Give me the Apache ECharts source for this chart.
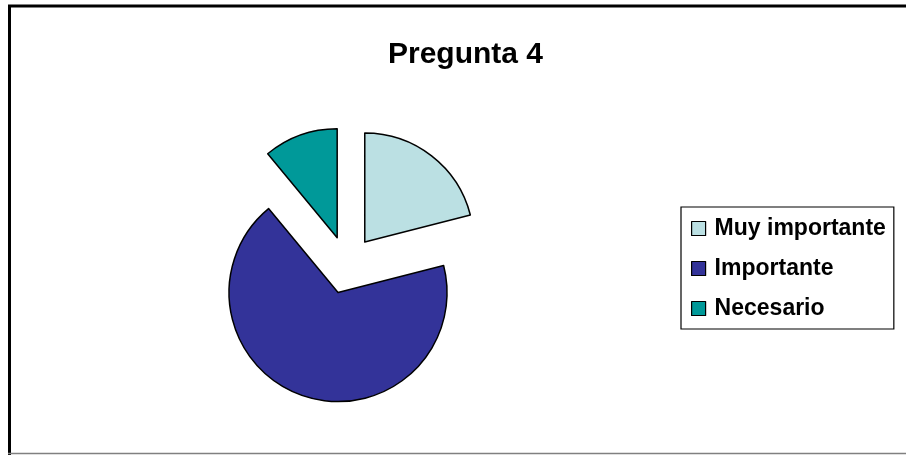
<!DOCTYPE html>
<html>
<head>
<meta charset="utf-8">
<script src="https://cdn.jsdelivr.net/npm/echarts@6/dist/echarts.min.js"></script>
<style>
  html, body { margin: 0; padding: 0; background: #fff; }
  #chart { width: 906px; height: 455px; }
</style>
</head>
<body>
<div id="chart"></div>
<script>
// Survey answers for question 4 (percent of responses)
const categories = ['Muy importante', 'Importante', 'Necesario'];
const values = [21, 68, 11];
const colors = ['#BBE0E3', '#333399', '#009999'];
const titleText = 'Pregunta 4';

const chart = echarts.init(document.getElementById('chart'), null, { renderer: 'canvas' });

const pieData = categories.map((name, i) => ({
  name: name,
  value: values[i],
  selected: true,
  itemStyle: { color: colors[i] }
}));

chart.setOption({
  animation: false,
  backgroundColor: '#ffffff',
  title: {
    text: titleText,
    left: 388,
    top: 40,
    padding: 0,
    textStyle: {
      fontFamily: 'Liberation Sans, Arial, sans-serif',
      fontWeight: 'bold',
      fontSize: 30,
      color: '#000'
    }
  },
  legend: {
    orient: 'vertical',
    left: 681,
    top: 207,
    padding: [10, 8, 9, 10],
    itemWidth: 14,
    itemHeight: 14,
    itemGap: 17,
    icon: 'rect',
    selectedMode: false,
    borderColor: '#000',
    borderWidth: 1.2,
    itemStyle: { borderColor: '#000', borderWidth: 1.2 },
    textStyle: {
      fontFamily: 'Liberation Sans, Arial, sans-serif',
      fontWeight: 'bold',
      fontSize: 23,
      color: '#000',
      padding: [0, 0, 0, 4]
    },
    data: categories
  },
  graphic: [
    { type: 'line', shape: { x1: 8, y1: 6, x2: 906, y2: 6 }, style: { stroke: '#000', lineWidth: 3 } },
    { type: 'line', shape: { x1: 9.5, y1: 5, x2: 9.5, y2: 455 }, style: { stroke: '#000', lineWidth: 3 } },
    { type: 'line', shape: { x1: 8, y1: 453.5, x2: 906, y2: 453.5 }, style: { stroke: '#808080', lineWidth: 1.5 } }
  ],
  series: [{
    type: 'pie',
    center: [347, 265],
    radius: 109,
    startAngle: 90,
    clockwise: true,
    selectedMode: 'multiple',
    selectedOffset: 29,
    avoidLabelOverlap: false,
    label: { show: false },
    labelLine: { show: false },
    itemStyle: { borderColor: '#000', borderWidth: 1.5 },
    select: { itemStyle: { borderColor: '#000', borderWidth: 1.5 } },
    emphasis: { disabled: true, scale: false },
    data: pieData
  }]
});
</script>
</body>
</html>
